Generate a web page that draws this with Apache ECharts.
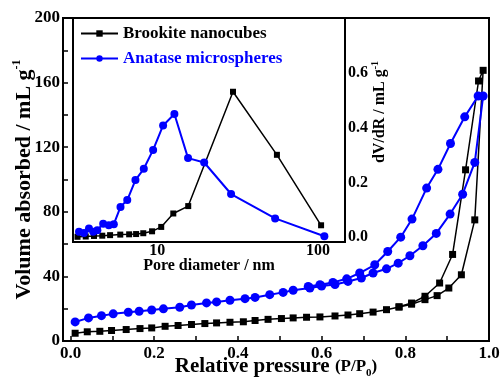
<!DOCTYPE html>
<html>
<head>
<meta charset="utf-8">
<script src="https://cdn.jsdelivr.net/npm/echarts@6/dist/echarts.min.js"></script>
<style>html,body{margin:0;padding:0;background:#fff}#c{width:504px;height:382px}</style>
</head>
<body>
<div id="c"></div>
<script>
// ---- data ----
const brookiteP = [0.011,0.040,0.070,0.098,0.133,0.166,0.194,0.226,0.257,0.289,0.321,0.349,0.381,0.413,0.441,0.472,0.504,0.532,0.564,0.596,0.632,0.663,0.691,0.723,0.755,0.785,0.815,0.847,0.876,0.904,0.934,0.966,0.986,
                   0.975,0.944,0.913,0.882,0.847,0.815,0.785];
const brookiteV = [4.8,5.7,6.0,6.5,7.1,7.7,8.1,9.1,9.6,10.2,10.8,11.2,11.6,11.9,12.7,13.4,13.9,14.3,14.7,14.9,15.5,16.1,16.9,17.9,19.4,21.0,22.8,25.6,28.1,32.8,41.0,75.0,167.6,
                   161.0,106.0,53.6,35.9,27.7,23.5,21.2];
const anataseP = [0.011,0.043,0.074,0.102,0.138,0.164,0.194,0.222,0.261,0.289,0.325,0.349,0.381,0.417,0.441,0.476,0.508,0.532,0.572,0.600,0.632,0.663,0.695,0.723,0.755,0.783,0.811,0.842,0.874,0.907,0.937,0.966,0.986,
                  0.974,0.942,0.908,0.878,0.851,0.816,0.789,0.758,0.727,0.691,0.660,0.627,0.596,0.568];
const anataseV = [11.8,14.3,15.7,16.8,17.8,18.4,19.2,19.9,20.9,22.3,23.6,24.2,25.2,26.2,27.0,28.7,30.1,31.4,32.8,34.0,35.0,36.9,39.0,42.1,44.7,48.2,52.8,59.0,66.6,78.6,90.9,110.6,151.7,
                  151.7,138.8,122.3,106.3,94.7,75.5,64.3,55.4,47.2,42.1,38.5,36.3,34.9,33.8];
// inset: pore size distribution
const poreBrookiteD  = [3.2,3.6,4.05,4.56,5.1,5.9,6.7,7.4,8.2,9.3,10.6,12.6,15.6,29.6,55.5,104.4];
const poreBrookiteDV = [0.002,0.003,0.005,0.006,0.008,0.010,0.011,0.012,0.015,0.022,0.038,0.087,0.114,0.531,0.301,0.044];
const poreAnataseD   = [3.27,3.51,3.77,4.01,4.25,4.62,5.01,5.38,5.92,6.52,7.33,8.26,9.44,10.89,12.8,15.56,19.6,28.8,54.1,109.4];
const poreAnataseDV  = [0.020,0.016,0.032,0.020,0.026,0.050,0.044,0.048,0.111,0.136,0.209,0.250,0.319,0.408,0.450,0.289,0.273,0.158,0.069,0.004];
// tick labels
const mainXLabels = [0,0.2,0.4,0.6,0.8,1.0];
const mainXTicks = [0,0.1,0.2,0.3,0.4,0.5,0.6,0.7,0.8,0.9,1.0];
const mainYTicks = [0,20,40,60,80,100,120,140,160,180,200];
const insetXLabels = [10,100];
const insetXTicks = [4,5,6,7,8,9,10,20,30,40,50,60,70,80,90,100];
const insetYLabels = [0,0.2,0.4,0.6];
const insetYTicks = [0,0.1,0.2,0.3,0.4,0.5,0.6,0.7];
const names = ['Brookite nanocubes','Anatase microspheres'];

const zip = (a,b) => a.map((v,i)=>[v,b[i]]);
const FONT = '"Liberation Serif", "Times New Roman", serif';
const BLUE = '#0000ff';
const noLine = {show:false, onZero:false};

const chart = echarts.init(document.getElementById('c'), null, {renderer:'canvas'});
chart.setOption({
  animation:false,
  backgroundColor:'#fff',
  textStyle:{fontFamily:FONT, fontWeight:'bold', color:'#000'},
  grid:[
    {left:63, top:18, right:15, bottom:41, show:true, borderColor:'#000', borderWidth:2, containLabel:false, outerBoundsMode:'none'},
    {left:73, top:18, width:272, height:224, show:true, borderColor:'#000', borderWidth:2, backgroundColor:'#fff', z:5, containLabel:false, outerBoundsMode:'none'}
  ],
  legend:{
    left:80, top:25, orient:'vertical', padding:0, itemGap:8, itemWidth:37, itemHeight:8, z:10,
    textStyle:{fontFamily:FONT, fontWeight:'bold', fontSize:17, lineHeight:16},
    data:[{name:names[0], textStyle:{color:'#000'}},{name:names[1], textStyle:{color:BLUE}}]
  },
  xAxis:[
    {gridIndex:0, type:'value', min:-0.018, max:1.0,
     axisLine:noLine, splitLine:{show:false},
     axisTick:{inside:true, length:5, lineStyle:{color:'#000', width:1.5}, customValues:mainXTicks},
     axisLabel:{customValues:mainXLabels, formatter:v=>v.toFixed(1), fontSize:17, fontWeight:'bold', color:'#000', margin:4, fontFamily:FONT},
     name:'Relative pressure {s|(P/P}{sub|0}{s|)}', nameLocation:'middle', nameGap:14, nameMoveOverlap:false,
     nameTextStyle:{fontSize:21, fontWeight:'bold', color:'#000', fontFamily:FONT, lineHeight:24,
       rich:{s:{fontSize:17, fontWeight:'bold', fontFamily:FONT, lineHeight:24, color:'#000'},
             sub:{fontSize:11, fontWeight:'bold', fontFamily:FONT, verticalAlign:'bottom', lineHeight:24, color:'#000'}}}
    },
    {gridIndex:1, type:'log', min:3.0, max:147,
     axisLine:noLine, splitLine:{show:false}, minorTick:{show:false},
     axisTick:{inside:true, length:4, lineStyle:{color:'#000', width:1.5}, customValues:insetXTicks},
     axisLabel:{customValues:insetXLabels, fontSize:16, fontWeight:'bold', color:'#000', margin:1, fontFamily:FONT},
     name:'Pore diameter / nm', nameLocation:'middle', nameGap:16, nameMoveOverlap:false,
     nameTextStyle:{fontSize:16, fontWeight:'bold', color:'#000', fontFamily:FONT}
    }
  ],
  yAxis:[
    {gridIndex:0, type:'value', min:0, max:200, interval:40,
     axisLine:noLine, splitLine:{show:false}, minorTick:{show:false},
     axisTick:{inside:true, length:5, lineStyle:{color:'#000', width:1.5}, customValues:mainYTicks},
     axisLabel:{fontSize:17, fontWeight:'bold', color:'#000', margin:3, fontFamily:FONT},
     name:'Volume absorbed / mL g{sup|-1}', nameLocation:'middle', nameGap:26, nameMoveOverlap:false,
     nameTextStyle:{fontSize:22, fontWeight:'bold', color:'#000', fontFamily:FONT, lineHeight:26,
       rich:{sup:{fontSize:12, fontWeight:'bold', fontFamily:FONT, verticalAlign:'top', lineHeight:26, color:'#000'}}}
    },
    {gridIndex:1, type:'value', position:'right', min:-0.017, max:0.80,
     axisLine:noLine, splitLine:{show:false},
     axisTick:{inside:true, length:5, lineStyle:{color:'#000', width:1.5}, customValues:insetYTicks},
     axisLabel:{customValues:insetYLabels, formatter:v=>v.toFixed(1), fontSize:16, fontWeight:'bold', color:'#000', margin:3, fontFamily:FONT},
     name:'dV/dR / mL g{sup|-1}', nameLocation:'middle', nameGap:25, nameMoveOverlap:false,
     nameTextStyle:{fontSize:16, fontWeight:'bold', color:'#000', fontFamily:FONT, lineHeight:20, padding:[0,0,0,36],
       rich:{sup:{fontSize:10, fontWeight:'bold', fontFamily:FONT, verticalAlign:'top', lineHeight:20, color:'#000'}}}
    }
  ],
  series:[
    {name:names[0], type:'line', xAxisIndex:0, yAxisIndex:0, data:zip(brookiteP,brookiteV),
     symbol:'rect', symbolSize:7, itemStyle:{color:'#000'}, lineStyle:{color:'#000', width:1.5}, z:3},
    {name:names[1], type:'line', xAxisIndex:0, yAxisIndex:0, data:zip(anataseP,anataseV),
     symbol:'circle', symbolSize:9, itemStyle:{color:BLUE}, lineStyle:{color:BLUE, width:2}, z:3},
    {name:names[0], type:'line', xAxisIndex:1, yAxisIndex:1, data:zip(poreBrookiteD,poreBrookiteDV),
     symbol:'rect', symbolSize:6, itemStyle:{color:'#000'}, lineStyle:{color:'#000', width:1.5}, z:6},
    {name:names[1], type:'line', xAxisIndex:1, yAxisIndex:1, data:zip(poreAnataseD,poreAnataseDV),
     symbol:'circle', symbolSize:8, itemStyle:{color:BLUE}, lineStyle:{color:BLUE, width:2}, z:6}
  ]
});
</script>
</body>
</html>
